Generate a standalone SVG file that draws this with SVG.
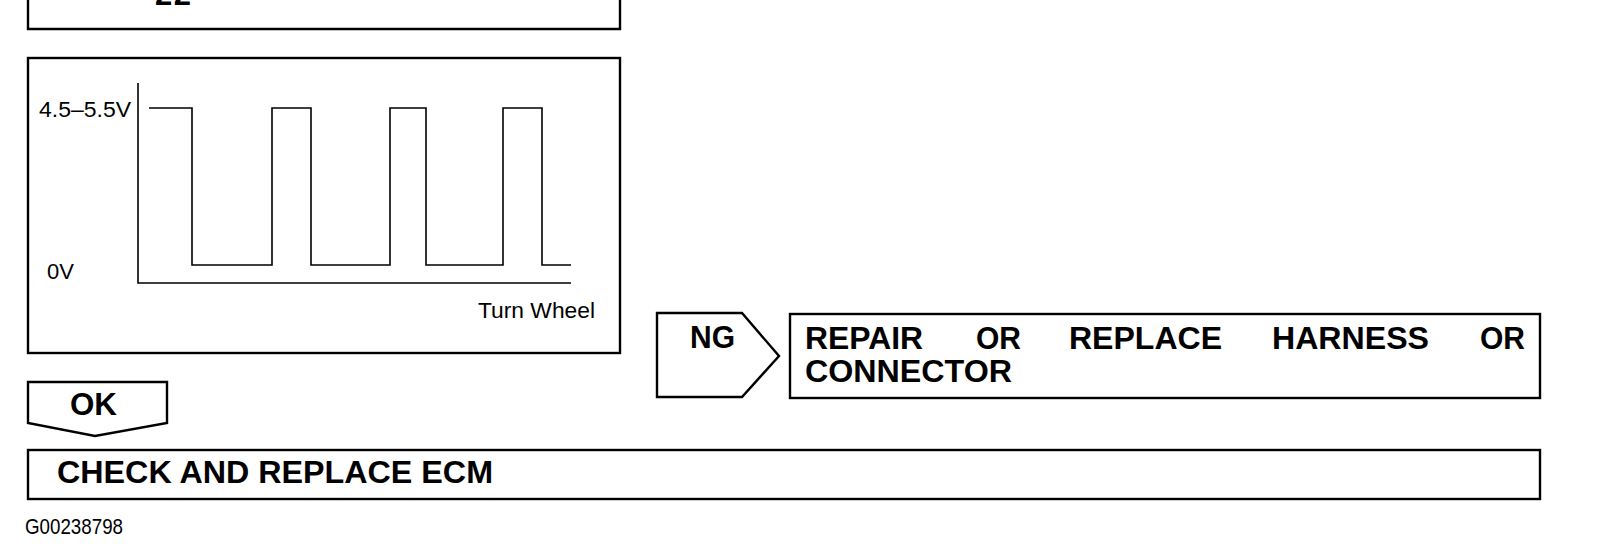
<svg xmlns="http://www.w3.org/2000/svg" width="1617" height="553" viewBox="0 0 1617 553">
<style>
.box{fill:#fff;stroke:#000;stroke-width:2.4}
.ln{fill:none;stroke:#000;stroke-width:1.6}
.b{font-family:"Liberation Sans",Arial,sans-serif;font-weight:bold;font-size:31px;fill:#000}
.r{font-family:"Liberation Sans",Arial,sans-serif;font-size:22px;fill:#000}
</style>
<rect width="1617" height="553" fill="#fff"/>
<g id="top-box">
<path class="box" d="M28,-5 V29 H620 V-5"/>
<text class="b" x="155" y="5" textLength="36">22</text>
</g>
<g id="chart">
<rect class="box" x="28" y="58" width="592" height="295"/>
<path class="ln" d="M138,83 V283 H571"/>
<path class="ln" d="M149,108 H192 V265 H272 V108 H311 V265 H390 V108 H426 V265 H503 V108 H542 V265 H571"/>
<text class="r" x="39" y="117" font-size="24" textLength="92" lengthAdjust="spacingAndGlyphs">4.5–5.5V</text>
<text class="r" x="47" y="279" font-size="23">0V</text>
<text class="r" x="478" y="318" font-size="23" textLength="117" lengthAdjust="spacingAndGlyphs">Turn Wheel</text>
</g>
<g id="connectors">
<g id="ng-arrow">
<path class="box" d="M657,313 H742 L779,356 L742,397 H657 Z"/>
<text class="b" x="690" y="348" font-size="29" textLength="45" lengthAdjust="spacingAndGlyphs">NG</text>
</g>
<g id="ok-arrow">
<path class="box" d="M28,382 H167 V423 L95,436 L28,423 Z"/>
<text class="b" x="70" y="415" font-size="29" textLength="47" lengthAdjust="spacingAndGlyphs">OK</text>
</g>
</g>
<g id="repair-box">
<rect class="box" x="790" y="314" width="750" height="84"/>
<text class="b" x="805" y="349" textLength="118" lengthAdjust="spacingAndGlyphs">REPAIR</text>
<text class="b" x="976" y="349" textLength="45" lengthAdjust="spacingAndGlyphs">OR</text>
<text class="b" x="1069" y="349" textLength="153" lengthAdjust="spacingAndGlyphs">REPLACE</text>
<text class="b" x="1272" y="349" textLength="157" lengthAdjust="spacingAndGlyphs">HARNESS</text>
<text class="b" x="1480" y="349" textLength="45" lengthAdjust="spacingAndGlyphs">OR</text>
<text class="b" x="805" y="382" textLength="207" lengthAdjust="spacingAndGlyphs">CONNECTOR</text>
</g>
<g id="ecm-box">
<rect class="box" x="28" y="450" width="1512" height="49"/>
<text class="b" x="57" y="483" textLength="436" lengthAdjust="spacingAndGlyphs">CHECK AND REPLACE ECM</text>
</g>
<g id="figure-id">
<text class="r" x="25" y="534" font-size="18" textLength="98" lengthAdjust="spacingAndGlyphs">G00238798</text>
</g>
</svg>
